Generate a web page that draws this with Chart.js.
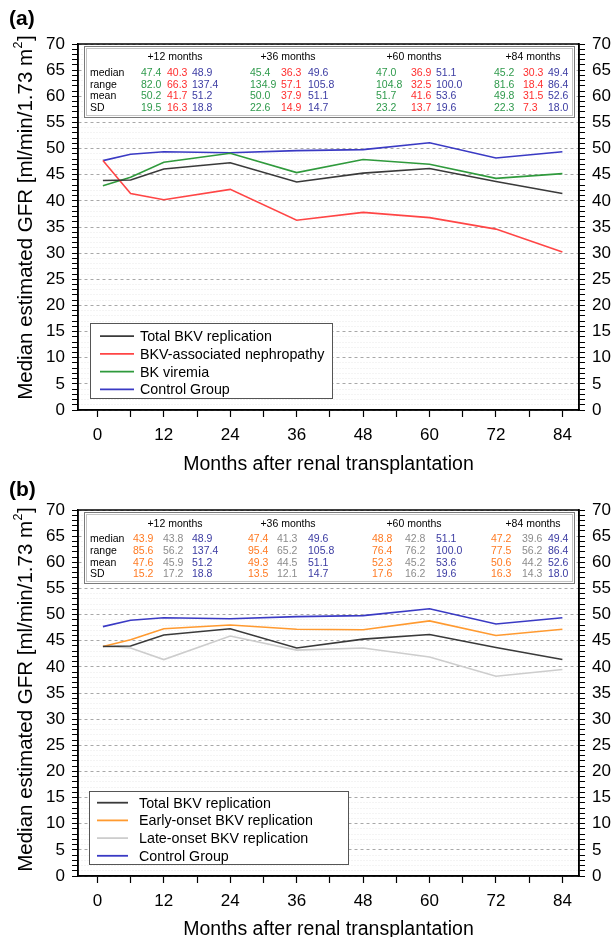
<!DOCTYPE html>
<html>
<head>
<meta charset="utf-8">
<script src="https://cdn.jsdelivr.net/npm/chart.js@4.4.1/dist/chart.umd.min.js"></script>
<style>
  body { margin: 0; background: #fff; }
  canvas { position: absolute; left: 0; }
  #chartA { top: 0; }
  #chartB { top: 478px; }
</style>
</head>
<body>
<canvas id="chartA" width="611" height="478"></canvas>
<canvas id="chartB" width="611" height="459"></canvas>
<script>
const FONT = '"Liberation Sans", Arial, Helvetica, sans-serif';

// months after transplantation
const months = [1, 6, 12, 24, 36, 48, 60, 72, 84];
const xTicks = [0, 6, 12, 18, 24, 30, 36, 42, 48, 54, 60, 66, 72, 78, 84];
const yTicks = Array.from({ length: 71 }, (_, i) => i);

// median eGFR per group
const totalBKV    = [43.9, 44.0, 46.1, 47.3, 43.6, 45.3, 46.2, 43.7, 41.4];
const nephropathy = [47.7, 41.4, 40.2, 42.2, 36.3, 37.8, 36.8, 34.6, 30.2];
const viremia     = [42.9, 44.5, 47.4, 49.1, 45.4, 47.9, 47.0, 44.3, 45.2];
const control     = [47.7, 48.9, 49.4, 49.2, 49.6, 49.8, 51.1, 48.2, 49.4];
const earlyOnset  = [43.9, 45.2, 47.3, 48.0, 47.2, 47.1, 48.8, 46.0, 47.2];
const lateOnset   = [44.0, 43.6, 41.4, 45.9, 43.2, 43.6, 41.9, 38.2, 39.5];

// table: rows median / range / mean / SD, columns +12/+36/+60/+84
const statHeaders = ['+12 months', '+36 months', '+60 months', '+84 months'];
const statRows = ['median', 'range', 'mean', 'SD'];
const viremiaStats = [[47.4, 45.4, 47.0, 45.2], [82.0, 134.9, 104.8, 81.6], [50.2, 50.0, 51.7, 49.8], [19.5, 22.6, 23.2, 22.3]];
const nephroStats  = [[40.3, 36.3, 36.9, 30.3], [66.3, 57.1, 32.5, 18.4], [41.7, 37.9, 41.6, 31.5], [16.3, 14.9, 13.7, 7.3]];
const controlStats = [[48.9, 49.6, 51.1, 49.4], [137.4, 105.8, 100.0, 86.4], [51.2, 51.1, 53.6, 52.6], [18.8, 14.7, 19.6, 18.0]];
const earlyStats   = [[43.9, 47.4, 48.8, 47.2], [85.6, 95.4, 76.4, 77.5], [47.6, 49.3, 52.3, 50.6], [15.2, 13.5, 17.6, 16.3]];
const lateStats    = [[43.8, 41.3, 42.8, 39.6], [56.2, 65.2, 76.2, 56.2], [45.9, 44.5, 45.2, 44.2], [17.2, 12.1, 16.2, 14.3]];

const pts = arr => months.map((m, i) => ({ x: m, y: arr[i] }));

function line(label, arr, color) {
  return { label, data: pts(arr), borderColor: color, backgroundColor: color,
           borderWidth: 1.6, pointRadius: 0, tension: 0, fill: false };
}

function scalesFor(xHeight) {
  const font = { family: FONT, size: 17 };
  const yBase = {
    type: 'linear', min: 0, max: 70,
    afterBuildTicks: s => { s.ticks = yTicks.map(v => ({ value: v })); },
    ticks: { autoSkip: false, padding: 7, color: '#000', font,
             callback: v => v % 5 === 0 ? String(v) : '' },
    border: { color: '#000', width: 1.5 }
  };
  return {
    x: {
      type: 'linear', min: -3.5, max: 87,
      afterBuildTicks: s => { s.ticks = xTicks.map(v => ({ value: v })); },
      afterFit: s => { s.height = xHeight; },
      ticks: { autoSkip: false, maxRotation: 0, padding: 8, color: '#000', font,
               callback: v => v % 12 === 0 ? String(v) : '' },
      grid: { drawOnChartArea: false, tickLength: 7, tickColor: '#000', tickWidth: 1.2 },
      border: { color: '#000', width: 1.5 }
    },
    y: Object.assign({}, yBase, {
      position: 'left',
      afterFit: s => { s.width = 78; },
      grid: {
        color: c => (c.tick && c.tick.value % 5 === 0) ? '#a8a8a8' : '#e9e9e9',
        lineWidth: 1, tickLength: 6, tickColor: '#000'
      },
      border: { color: '#000', width: 1.5,
                dash: c => !c.tick ? [] : (c.tick.value % 5 === 0 ? [3, 3] : [1, 2]) }
    }),
    y2: Object.assign({}, yBase, {
      position: 'right',
      afterFit: s => { s.width = 32; },
      grid: { drawOnChartArea: false, tickLength: 6, tickColor: '#000' }
    })
  };
}

function makeDeco(cfg) {
  return {
    id: 'deco',
    afterDatasetsDraw(chart) {
      const ctx = chart.ctx;
      const t = cfg.table;
      ctx.save();
      // stats table box
      ctx.fillStyle = '#fff';
      ctx.fillRect(t.x, t.y, t.w, t.h);
      ctx.strokeStyle = '#7a7a7a';
      ctx.lineWidth = 1;
      ctx.strokeRect(t.x + 0.5, t.y + 0.5, t.w, t.h);
      ctx.strokeStyle = '#c4c4c4';
      ctx.strokeRect(t.x + 2.5, t.y + 2.5, t.w - 4, t.h - 4);
      ctx.font = '10.5px ' + FONT;
      ctx.textBaseline = 'middle';
      ctx.fillStyle = '#000';
      ctx.textAlign = 'center';
      statHeaders.forEach((h, g) => ctx.fillText(h, t.headX[g], t.y + t.headDy));
      ctx.textAlign = 'left';
      statRows.forEach((r, ri) => {
        const y = t.y + t.rowDy + ri * t.rowGap;
        ctx.fillStyle = '#000';
        ctx.fillText(r, t.x + 6, y);
        t.series.forEach((s, k) => {
          ctx.fillStyle = s.color;
          for (let g = 0; g < 4; g++) {
            ctx.fillText(s.stats[ri][g].toFixed(1), t.cols[g][k], y);
          }
        });
      });

      // legend
      const L = cfg.legend;
      ctx.fillStyle = '#fff';
      ctx.fillRect(L.x, L.y, L.w, L.h);
      ctx.strokeStyle = '#555';
      ctx.strokeRect(L.x + 0.5, L.y + 0.5, L.w, L.h);
      ctx.font = '14.3px ' + FONT;
      chart.data.datasets.forEach((ds, i) => {
        const y = L.y + L.firstDy + i * L.gap;
        ctx.strokeStyle = ds.borderColor;
        ctx.lineWidth = 1.8;
        ctx.beginPath();
        ctx.moveTo(L.x + L.lineX0, y);
        ctx.lineTo(L.x + L.lineX1, y);
        ctx.stroke();
        ctx.fillStyle = '#000';
        ctx.fillText(ds.label, L.x + L.textX, y + 1);
      });
      ctx.restore();
    },
    afterDraw(chart) {
      const ctx = chart.ctx;
      const a = chart.chartArea;
      ctx.save();
      ctx.strokeStyle = '#000';
      ctx.lineWidth = 1.5;
      ctx.strokeRect(a.left, a.top, a.right - a.left, a.bottom - a.top);

      ctx.fillStyle = '#000';
      ctx.textBaseline = 'middle';
      // panel letter
      ctx.font = 'bold 21px ' + FONT;
      ctx.textAlign = 'left';
      ctx.fillText(cfg.letter, 9, cfg.letterY);

      // x title
      ctx.font = '19.5px ' + FONT;
      ctx.textAlign = 'center';
      ctx.fillText('Months after renal transplantation', (a.left + a.right) / 2, cfg.xTitleY);

      // y title with superscript
      const main = 'Median estimated GFR [ml/min/1.73 m';
      const big = '20.5px ' + FONT;
      const small = '12.5px ' + FONT;
      ctx.font = big;
      const w1 = ctx.measureText(main).width;
      const w3 = ctx.measureText(']').width;
      ctx.font = small;
      const w2 = ctx.measureText('2').width;
      const total = w1 + w2 + w3;
      ctx.translate(26, (a.top + a.bottom) / 2 + cfg.yTitleShift);
      ctx.rotate(-Math.PI / 2);
      ctx.textAlign = 'left';
      ctx.font = big;
      ctx.fillText(main, -total / 2, 0);
      ctx.font = small;
      ctx.fillText('2', -total / 2 + w1 + 0.5, -7.5);
      ctx.font = big;
      ctx.fillText(']', -total / 2 + w1 + w2 + 1, 0);
      ctx.restore();
    }
  };
}

function build(id, datasets, top, xHeight, deco) {
  new Chart(document.getElementById(id), {
    type: 'line',
    data: { datasets },
    options: {
      responsive: false,
      animation: false,
      devicePixelRatio: 1,
      layout: { padding: { top, left: 0, right: 0, bottom: 0 } },
      plugins: { legend: { display: false }, tooltip: { enabled: false } },
      scales: scalesFor(xHeight)
    },
    plugins: [makeDeco(deco)]
  });
}

// (a)
build('chartA', [
  line('Total BKV replication', totalBKV, '#3a3a3a'),
  line('BKV-associated nephropathy', nephropathy, '#ff4545'),
  line('BK viremia', viremia, '#2f9a3c'),
  line('Control Group', control, '#3a3ac4')
], 44, 68, {
  letter: '(a)', letterY: 19, xTitleY: 465, yTitleShift: -9,
  table: {
    x: 84, y: 46, w: 490, h: 71, headDy: 11, rowDy: 27, rowGap: 11.7,
    headX: [175, 288, 414, 533],
    cols: [[141, 167, 192], [250, 281, 308], [376, 411, 436], [494, 523, 548]],
    series: [
      { stats: viremiaStats, color: '#2f9a4c' },
      { stats: nephroStats, color: '#ff2e2e' },
      { stats: controlStats, color: '#3b3ba2' }
    ]
  },
  legend: { x: 90, y: 323, w: 242, h: 75, firstDy: 13.2, gap: 17.7, lineX0: 10, lineX1: 44, textX: 50 }
});

// (b)
build('chartB', [
  line('Total BKV replication', totalBKV, '#3a3a3a'),
  line('Early-onset BKV replication', earlyOnset, '#ff9a30'),
  line('Late-onset BKV replication', lateOnset, '#cdcdcd'),
  line('Control Group', control, '#3a3ac4')
], 32, 61, {
  letter: '(b)', letterY: 12, xTitleY: 452, yTitleShift: -3,
  table: {
    x: 84, y: 34, w: 490, h: 71, headDy: 12, rowDy: 27.3, rowGap: 11.7,
    headX: [175, 288, 414, 533],
    cols: [[133, 163, 192], [248, 277, 308], [372, 405, 436], [491, 522, 548]],
    series: [
      { stats: earlyStats, color: '#ff7a22' },
      { stats: lateStats, color: '#8c8c8c' },
      { stats: controlStats, color: '#3b3ba2' }
    ]
  },
  legend: { x: 89, y: 313, w: 259, h: 73, firstDy: 11.7, gap: 17.7, lineX0: 8, lineX1: 39, textX: 50 }
});
</script>
</body>
</html>
